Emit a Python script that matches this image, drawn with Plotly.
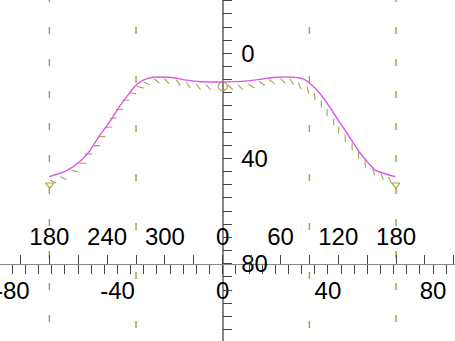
import numpy as np
import plotly.graph_objects as go

# ---------------- data ----------------
curve_x = [-66.0, -60.6, -56.8, -53.0, -50.5, -46.7, -42.9, -39.7, -36.5, -33.3, -30.2,
           -26.4, -20.0, -13.7, -8.6, -1.0, 9.2, 14.3, 20.0, 27.0, 30.8, 34.6, 38.4,
           42.2, 47.3, 52.3, 58.0, 61.2, 65.6]
curve_y = [46.9, 45.2, 43.1, 39.9, 37.0, 31.1, 26.0, 20.9, 16.5, 12.4, 10.2,
           9.1, 9.1, 10.2, 10.8, 10.9, 10.5, 9.9, 9.1, 9.1, 9.8, 12.7, 17.1,
           22.8, 30.4, 38.0, 44.4, 45.6, 46.9]

hatch_x = [-64.4, -60.6, -56.2, -53.2, -51.1, -47.9, -46.0, -43.5, -41.6, -39.3, -36.8,
           -34.2, -31.4, -28.9, -25.1, -21.3, -16.9, -13.1, -9.3, -5.5, 2.9, 6.7,
           10.8, 14.9, 18.7, 22.9, 26.3, 29.3, 32.4, 35.0, 37.5, 39.7, 42.2, 44.1,
           46.6, 49.2, 51.7, 54.2, 57.4, 60.6, 63.6]
hatch_y = [48.8, 47.5, 44.8, 41.8, 38.3, 35.1, 31.7, 28.1, 24.7, 21.3, 17.8,
           15.2, 12.9, 11.4, 10.5, 10.5, 11.2, 12.1, 12.7, 12.9, 12.9, 12.9,
           12.4, 11.4, 10.8, 10.5, 10.8, 12.4, 14.0, 16.5, 19.3, 22.6, 26.0, 29.2,
           32.3, 35.5, 38.7, 42.1, 45.0, 46.9, 48.2]

center_x = [0.0]
center_y = [12.6]
end_x = [-65.8, 65.8]
end_y = [50.0, 50.0]

outer_angles = [-180, 180]
inner_angles = [-90, 90]

x_tickvals = [-80, -40, 0, 40, 80]
x_ticktext = ["-80", "-40", "0", "40", "80"]
x_minor = 5
y_tickvals = [0, 40, 80]
y_ticktext = ["0", "40", "80"]
y_minor = 5
angle_tickvals = [-180, -120, -60, 0, 60, 120, 180]
angle_ticktext = ["180", "240", "300", "0", "60", "120", "180"]
angle_minor = 30

# ---------------- styling ----------------
W, H = 455, 341
K = 2.63            # px per unit
X0PX, Y0PX = 222.7, 53.3
xr = [-X0PX / K, (W - X0PX) / K]
yr = [(H - Y0PX) / K, -Y0PX / K]
DEG_PX = 173.35 / 180.0
ar = [-X0PX / DEG_PX, (W - X0PX) / DEG_PX]
x_axis_pos = (H - (Y0PX + 80 * K)) / H
y_axis_pos = X0PX / W

OLIVE = "#a3a34a"
MAG = "#dd55ee"
FONT = dict(family="Liberation Sans, Arial, sans-serif", size=24, color="black")

fig = go.Figure()

# dashed guide lines on the angle axis
for angs, dash, ytop in [(outer_angles, "7px,25px", (-5 - Y0PX) / K),
                         (inner_angles, "7px,42px", (-22 - Y0PX) / K)]:
    xs, ys = [], []
    for a in angs:
        xs += [a, a, None]
        ys += [ytop, yr[0] + 5, None]
    fig.add_trace(go.Scatter(x=xs, y=ys, xaxis="x2", yaxis="y", mode="lines",
                             line=dict(color=OLIVE, width=1.5, dash=dash),
                             hoverinfo="skip"))

# hatch marks
hx = np.array(hatch_x)
hy = np.array(hatch_y)
dirs = np.degrees(np.arctan2(-np.gradient(hy), np.gradient(hx)))
angles = 45 - 0.85 * dirs
fig.add_trace(go.Scatter(x=hatch_x, y=hatch_y, mode="markers",
                         marker=dict(symbol="line-ew", size=5, angle=angles,
                                     line=dict(color=OLIVE, width=1.1)),
                         hoverinfo="skip"))
fig.add_trace(go.Scatter(x=center_x, y=center_y, mode="markers",
                         marker=dict(symbol="circle-open", size=9,
                                     line=dict(color=OLIVE, width=1.1), color=OLIVE),
                         hoverinfo="skip"))
fig.add_trace(go.Scatter(x=end_x, y=end_y, mode="markers",
                         marker=dict(symbol="triangle-down-open", size=7,
                                     line=dict(color=OLIVE, width=1.1), color=OLIVE),
                         hoverinfo="skip"))

# main curve
fig.add_trace(go.Scatter(x=curve_x, y=curve_y, mode="lines",
                         line=dict(color=MAG, width=1.4, shape="spline", smoothing=0.5)))

tick_common = dict(ticks="outside", ticklen=9, tickwidth=1, tickcolor="#444",
                   showgrid=False, zeroline=False, tickfont=FONT,
                   ticklabeloverflow="allow", automargin=False)

fig.update_layout(
    width=W, height=H, margin=dict(l=0, r=0, t=0, b=0, autoexpand=False),
    paper_bgcolor="white", plot_bgcolor="white", showlegend=False,
    xaxis=dict(range=xr, anchor="free", position=x_axis_pos,
               showline=True, linecolor="#888", linewidth=1,
               tickmode="array", tickvals=x_tickvals, ticktext=x_ticktext,
               minor=dict(tick0=0, dtick=x_minor, ticks="outside", ticklen=9,
                          tickcolor="#444"),
               ticklabelstandoff=-4,
               **tick_common),
    xaxis2=dict(range=ar, overlaying="x", anchor="free", position=x_axis_pos,
                side="top", showline=False,
                tickmode="array", tickvals=angle_tickvals, ticktext=angle_ticktext,
                minor=dict(tick0=0, dtick=angle_minor, ticks="outside", ticklen=9,
                           tickcolor="#444"),
                **tick_common),
    yaxis=dict(range=yr, anchor="free", position=y_axis_pos, side="right",
               showline=True, linecolor="#888", linewidth=1.5,
               tickmode="array", tickvals=y_tickvals, ticktext=y_ticktext,
               minor=dict(tick0=0, dtick=y_minor, ticks="outside", ticklen=9,
                          tickcolor="#444"),
               ticklabelstandoff=4,
               **tick_common),
)

fig.write_html("out.html")
